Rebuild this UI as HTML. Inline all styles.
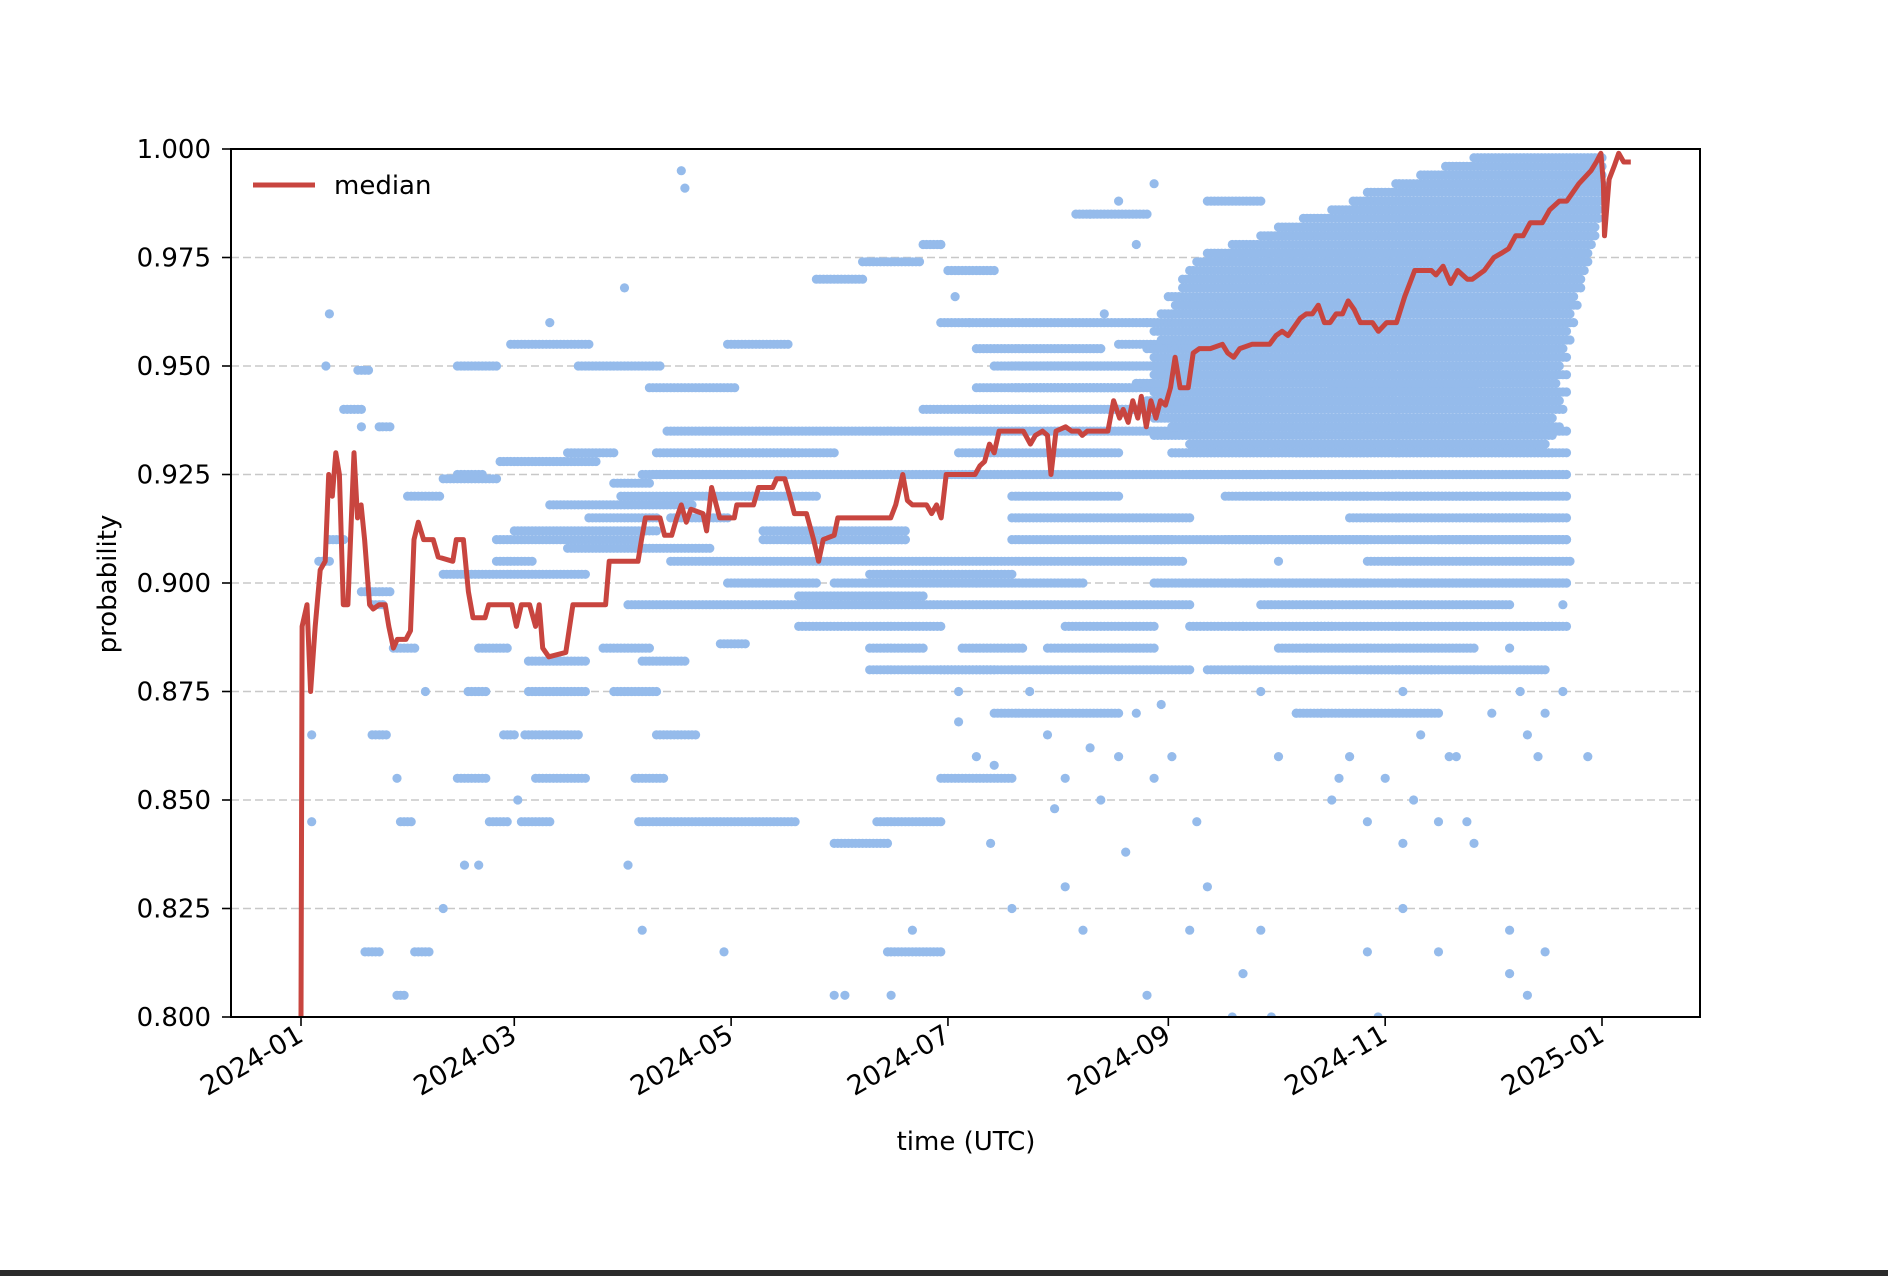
<!DOCTYPE html>
<html><head><meta charset="utf-8"><style>
html,body{margin:0;padding:0;background:#fff;}
svg{display:block;font-family:"DejaVu Sans","Liberation Sans",sans-serif;}
</style></head><body>
<svg id="chart" width="1888" height="1276" viewBox="0 0 1888 1276" xmlns="http://www.w3.org/2000/svg">
<rect x="0" y="0" width="1888" height="1276" fill="#fff"/>
<g id="grid"></g>
<g id="dots"></g>
<g id="medianG"></g>
<rect x="231" y="149" width="1469" height="868" fill="none" stroke="#000" stroke-width="2"/>
<g id="yticks"></g>
<g id="xticks"></g>
<text x="966" y="1150" font-size="26" text-anchor="middle">time (UTC)</text>
<text transform="translate(116,584) rotate(-90)" font-size="26" text-anchor="middle">probability</text>
<g>
<line x1="253" y1="185" x2="315" y2="185" stroke="#c8453f" stroke-width="5"/>
<text x="334" y="194" font-size="26">median</text>
</g>
<rect x="0" y="1270" width="1888" height="6" fill="#2b2b2b"/>
</svg>
<script>
const yTicks=[0.800,0.825,0.850,0.875,0.900,0.925,0.950,0.975,1.000];
const xTickDays=[0,60,121,182,244,305,366];
const xTickLabels=["2024-01","2024-03","2024-05","2024-07","2024-09","2024-11","2025-01"];
const medianDays=[0,0.3,1.7,2.7,4,5.4,6.8,7.8,8.8,9.8,10.8,11.9,13.2,14.9,15.9,16.9,17.9,19.3,20.3,22,23.7,24.7,26,27.1,29.5,30.8,31.8,33,34.5,37.2,38.6,42.7,43.7,45.7,47.1,48.4,51.8,52.8,59.3,60.6,62,64.3,66,67,68,69.7,74.5,76.5,85.7,86.7,94.8,95.8,96.9,101,102.3,104.3,105.7,107,108.4,109.7,113.1,114.1,115.5,117.8,121.9,122.6,127.3,128.7,132.7,133.8,136.1,137.5,138.8,142.2,144.2,145.6,146.9,150,151,165.9,167.3,169.3,170.6,172,176,177.4,178.8,180.1,181.5,189.6,191,192.3,193.7,195,196.4,203.2,205.2,206.6,208.6,210,211,212.4,215.1,216.8,218.8,219.8,221.2,227,228.6,230.3,231.3,232.7,234,235.4,236.4,237.8,239.1,240.5,241.8,243.2,244.6,245.9,247.3,249.6,251,252.7,255.8,259.2,260.7,262.4,264.1,267.5,272.5,274.3,276,277.7,281.1,282.8,284.5,286.2,287.9,289.5,291.2,293,294.6,296.3,298,301.4,303.1,305.4,308.2,310.5,313.3,316.6,318,319.3,321.3,323.4,325.4,328.1,329.5,332.9,335.6,337.7,339.7,341.7,343.8,345.8,349.2,351.3,354,356.1,359.5,362.9,364.4,365.7,366.4,366.7,368,369.4,370.7,372.1,374.1];
const medianValues=[0.800,0.890,0.895,0.875,0.890,0.903,0.905,0.925,0.920,0.930,0.925,0.895,0.895,0.930,0.915,0.918,0.910,0.895,0.894,0.895,0.895,0.890,0.885,0.887,0.887,0.889,0.910,0.914,0.910,0.910,0.906,0.905,0.910,0.910,0.898,0.892,0.892,0.895,0.895,0.890,0.895,0.895,0.890,0.895,0.885,0.883,0.884,0.895,0.895,0.905,0.905,0.910,0.915,0.915,0.911,0.911,0.915,0.918,0.914,0.917,0.916,0.912,0.922,0.915,0.915,0.918,0.918,0.922,0.922,0.924,0.924,0.920,0.916,0.916,0.910,0.905,0.910,0.911,0.915,0.915,0.918,0.925,0.919,0.918,0.918,0.916,0.918,0.915,0.925,0.925,0.927,0.928,0.932,0.930,0.935,0.935,0.932,0.934,0.935,0.934,0.925,0.935,0.936,0.935,0.935,0.934,0.935,0.935,0.942,0.938,0.940,0.937,0.942,0.938,0.943,0.936,0.942,0.938,0.942,0.941,0.945,0.952,0.945,0.945,0.953,0.954,0.954,0.955,0.953,0.952,0.954,0.955,0.955,0.957,0.958,0.957,0.961,0.962,0.962,0.964,0.960,0.960,0.962,0.962,0.965,0.963,0.960,0.960,0.958,0.960,0.960,0.966,0.972,0.972,0.972,0.971,0.973,0.969,0.972,0.970,0.970,0.972,0.975,0.976,0.977,0.980,0.980,0.983,0.983,0.986,0.988,0.988,0.992,0.995,0.997,0.999,0.992,0.980,0.993,0.996,0.999,0.997,0.997,0.999];
const segStart=[5,8,12,16,17,22,20,26,20,30,44,44,40,18,27,32,28,44,47,50,53,55,56,59,64,57,63,62,66,64,75,78,81,85,88,88,94,95,96,98,96,103,99,104,92,100,104,118,120,120,125,137,140,145,150,158,160,162,165,175,180,182,186,190,195,200,200,205,210,218,230,245,240,250,255,270,280,282,300,295,300,305,290,185,190,200,210,190,200,215,180,195,240,250,260,270,255,265,275,285,280,260,300,310,320,330,90,110,130,150,60,75,100,130,160,40,55,70,140,160,175,190,180,200,230];
const segEnd=[8,12,17,19,25,25,23,32,24,39,51,55,55,22,29,36,31,52,52,58,58,65,83,81,80,60,78,70,80,80,88,101,100,98,98,100,102,139,108,122,125,251,281,248,250,111,120,125,137,145,145,170,175,158,165,174,175,180,180,180,200,195,203,225,235,230,250,245,240,238,250,300,300,300,270,300,356,356,356,350,356,340,330,230,240,235,245,220,245,240,250,230,300,290,356,340,320,356,330,356,320,356,350,356,356,356,130,150,170,190,100,115,140,170,200,80,95,110,180,195,210,230,245,235,250];
const segValues=[0.905,0.910,0.940,0.949,0.898,0.936,0.895,0.885,0.865,0.920,0.925,0.950,0.924,0.815,0.805,0.815,0.845,0.855,0.875,0.885,0.845,0.905,0.928,0.955,0.875,0.865,0.865,0.845,0.855,0.882,0.930,0.950,0.915,0.885,0.923,0.875,0.855,0.845,0.882,0.945,0.925,0.935,0.925,0.905,0.895,0.865,0.915,0.886,0.955,0.900,0.920,0.910,0.897,0.970,0.840,0.974,0.885,0.845,0.815,0.978,0.855,0.972,0.885,0.954,0.950,0.920,0.915,0.945,0.885,0.985,0.940,0.930,0.910,0.925,0.988,0.920,0.930,0.925,0.935,0.915,0.905,0.920,0.945,0.930,0.940,0.945,0.950,0.900,0.910,0.890,0.880,0.870,0.900,0.890,0.910,0.895,0.880,0.900,0.885,0.890,0.870,0.920,0.880,0.900,0.910,0.915,0.920,0.930,0.910,0.900,0.912,0.908,0.930,0.912,0.902,0.902,0.910,0.918,0.890,0.880,0.940,0.945,0.960,0.950,0.955];
const cloudLevels=[0.930,0.932,0.934,0.936,0.938,0.940,0.942,0.944,0.946,0.948,0.950,0.952,0.954,0.956,0.958,0.960,0.962,0.964,0.966,0.968,0.970,0.972,0.974,0.976,0.978,0.980,0.982,0.984,0.986,0.988,0.990,0.992,0.994,0.996,0.998];
const cloudStart=[245,250,240,245,240,235,238,240,235,240,236,240,238,242,240,244,242,246,244,248,248,250,252,255,262,270,275,282,290,296,300,308,315,322,330];
const cloudEnd=[352,350,352,354,352,355,354,356,353,356,354,356,355,357,356,358,357,359,358,360,360,361,362,362,363,364,364,365,365,366,366,366,366,366,366];
const ptDays=[8,7,3,3,17,27,35,40,46,50,61,70,91,107,108,92,96,119,150,153,166,172,194,200,215,220,238,250,255,262,265,270,273,300,303,310,320,340,345,350,362,357,300,310,320,330,340,290,275,280,295,305,315,325,335,345,350,355,280,300,310,330,340,350,355,290,270,265,260,275,225,230,235,210,205,215,200,190,185,240,245,283,287,292,297,313,318,323,328,343,348,352,185,195,212,222,232,242,252,230,235,240,238,226,222,180,184,188];
const ptValues=[0.962,0.950,0.865,0.845,0.936,0.855,0.875,0.825,0.835,0.835,0.850,0.960,0.968,0.995,0.991,0.835,0.820,0.815,0.805,0.805,0.805,0.820,0.840,0.825,0.830,0.820,0.805,0.820,0.830,0.800,0.810,0.820,0.800,0.815,0.800,0.825,0.815,0.810,0.805,0.815,0.860,0.905,0.845,0.840,0.845,0.840,0.820,0.850,0.860,0.870,0.860,0.855,0.865,0.860,0.870,0.865,0.870,0.875,0.880,0.885,0.875,0.880,0.885,0.890,0.895,0.895,0.875,0.890,0.900,0.905,0.850,0.860,0.870,0.865,0.875,0.855,0.880,0.860,0.875,0.855,0.860,0.885,0.870,0.855,0.880,0.850,0.880,0.860,0.845,0.875,0.860,0.890,0.868,0.858,0.848,0.862,0.838,0.872,0.845,0.988,0.978,0.992,0.960,0.962,0.985,0.978,0.966,0.960];

const X0=301, PXD=(1602-301)/366, Y0=1017, PXU=(1017-149)/0.2;
function xs(d){return X0+d*PXD;}
function ys(v){return Y0-(v-0.8)*PXU;}
const NS="http://www.w3.org/2000/svg";
function mk(t,a){const e=document.createElementNS(NS,t);for(const k in a)e.setAttribute(k,a[k]);return e;}

const grid=document.getElementById('grid'), yt=document.getElementById('yticks'), xt=document.getElementById('xticks');
yTicks.forEach(v=>{
  const y=ys(v);
  if(v>0.8&&v<1.0){const g=mk('line',{x1:231,x2:1700,y1:y,y2:y,stroke:'#c8c8c8','stroke-width':1.6,'stroke-dasharray':'8,4'});
  
  
  grid.appendChild(g);}
  const tk=mk('line',{x1:222,x2:231,y1:y,y2:y,stroke:'#000','stroke-width':1.6});
  
  
  yt.appendChild(tk);
  const tx=mk('text',{x:211,y:y+9,'font-size':26,'text-anchor':'end'});
  
  
  tx.textContent=v.toFixed(3);yt.appendChild(tx);
});
xTickDays.forEach((d,i)=>{
  const x=xs(d);
  const tk=mk('line',{x1:x,x2:x,y1:1017,y2:1026,stroke:'#000','stroke-width':1.6});
  
  
  xt.appendChild(tk);
  const tx=mk('text',{transform:`translate(${x+4},1040) rotate(-30)`,'font-size':27,'text-anchor':'end'});
  
  
  tx.textContent=xTickLabels[i];xt.appendChild(tx);
});

const dots=document.getElementById('dots');
let html='';
const C='#95bbeb', R=4.6;
function addSeg(a,b,v){const y=ys(v).toFixed(1);for(let d=a;d<=b;d+=1){html+=`<circle cx="${xs(d).toFixed(1)}" cy="${y}" r="${R}" fill="${C}"/>`;}}
for(let i=0;i<segValues.length;i++) addSeg(segStart[i],segEnd[i],segValues[i]);
for(let i=0;i<cloudLevels.length;i++) addSeg(cloudStart[i],cloudEnd[i],cloudLevels[i]);
for(let i=0;i<ptDays.length;i++){
  html+=`<circle cx="${xs(ptDays[i]).toFixed(1)}" cy="${ys(ptValues[i]).toFixed(1)}" r="${R}" fill="${C}"/>`;
}
dots.innerHTML=html;

const mg=document.getElementById('medianG');
const pts=medianDays.map((d,i)=>xs(d).toFixed(1)+','+ys(medianValues[i]).toFixed(1)).join(' ');
const pl=mk('polyline',{points:pts,fill:'none',stroke:'#c8453f','stroke-width':5,'stroke-linejoin':'round'});


mg.appendChild(pl);
const clip=mk('clipPath',{id:'pc'});clip.appendChild(mk('rect',{x:231,y:149,width:1469,height:868}));
document.getElementById('chart').insertBefore(clip,document.getElementById('chart').firstChild);
mg.setAttribute('clip-path','url(#pc)');dots.setAttribute('clip-path','url(#pc)');
</script>
</body></html>
